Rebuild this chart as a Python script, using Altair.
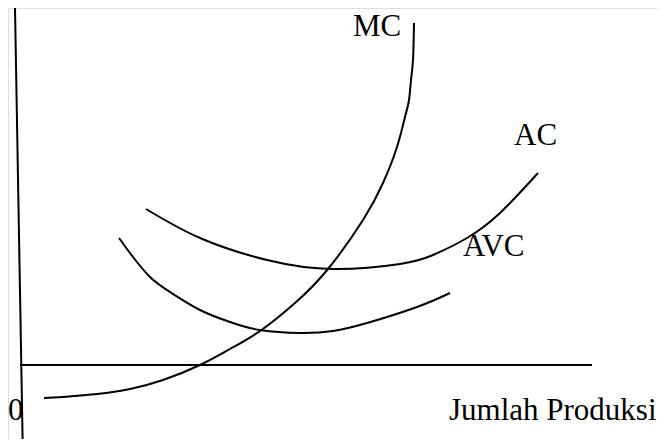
import altair as alt
import pandas as pd

# Quantity (q) and cost (c) readings of each curve
mc_q = [2.4, 4.3, 7.7, 11.0, 14.3, 18.0, 21.0, 24.0, 27.5, 30.8, 34.3, 36.3, 37.7, 38.5, 38.9, 39.1, 39.3, 39.4]
mc_c = [-3.3, -3.2, -2.9, -2.4, -1.5, 0.0, 1.6, 3.4, 6.2, 9.6, 14.5, 18.2, 21.8, 24.8, 26.5, 28.5, 30.5, 34.2]

ac_q = [12.6, 18.0, 24.7, 31.3, 38.0, 41.3, 44.7, 48.0, 51.8]
ac_c = [15.6, 12.7, 10.5, 9.6, 10.1, 11.0, 12.7, 15.2, 19.2]

avc_q = [9.9, 11.3, 13.0, 14.7, 18.0, 21.3, 24.0, 28.0, 31.3, 34.7, 39.7, 43.0]
avc_c = [12.7, 10.8, 8.8, 7.5, 5.5, 4.2, 3.5, 3.2, 3.4, 4.2, 5.8, 7.2]

label_text = ["MC", "AC", "AVC", "Jumlah Produksi", "0"]
label_q = [33.3, 49.4, 44.3, 42.9, -1.2]
label_c = [32.9, 22.0, 10.9, -5.5, -5.5]

# axis lines (hand drawn)
vaxis_q = [-0.5, 0.26]
vaxis_c = [35.7, -7.4]
haxis_q = [0.0, 57.2]
haxis_c = [0.0, 0.0]

XDOM = [-1.2, 63.7]
YDOM = [-7.4, 35.7]

xs = alt.Scale(domain=XDOM, nice=False, zero=False)
ys = alt.Scale(domain=YDOM, nice=False, zero=False)

def curve_df(name, q, c):
    return pd.DataFrame({"curve": name, "q": q, "c": c, "i": range(len(q))})

curves = pd.concat([
    curve_df("MC", mc_q, mc_c),
    curve_df("AC", ac_q, ac_c),
    curve_df("AVC", avc_q, avc_c),
])

axes_df = pd.concat([
    pd.DataFrame({"curve": "v", "q": vaxis_q, "c": vaxis_c, "i": [0, 1]}),
    pd.DataFrame({"curve": "h", "q": haxis_q, "c": haxis_c, "i": [0, 1]}),
])

labels = pd.DataFrame({"t": label_text, "q": label_q, "c": label_c})

axis_lines = alt.Chart(axes_df).mark_line(color="#000000", strokeWidth=2).encode(
    x=alt.X("q:Q", scale=xs, axis=None),
    y=alt.Y("c:Q", scale=ys, axis=None),
    detail="curve:N",
    order="i:O",
)

curve_lines = alt.Chart(curves).mark_line(
    color="#000000", strokeWidth=2, interpolate="natural"
).encode(
    x=alt.X("q:Q", scale=xs, axis=None),
    y=alt.Y("c:Q", scale=ys, axis=None),
    detail="curve:N",
    order="i:O",
)

texts = alt.Chart(labels).mark_text(
    font="Liberation Serif", fontSize=31, align="left", baseline="alphabetic", color="#000000"
).encode(
    x=alt.X("q:Q", scale=xs, axis=None),
    y=alt.Y("c:Q", scale=ys, axis=None),
    text="t:N",
)

chart = alt.layer(axis_lines, curve_lines, texts).properties(
    width=649, height=431, padding=0, autosize="none"
).configure_view(stroke=None).configure(background="white")

chart.save("out.html", embed_options={"renderer": "svg", "actions": False})
